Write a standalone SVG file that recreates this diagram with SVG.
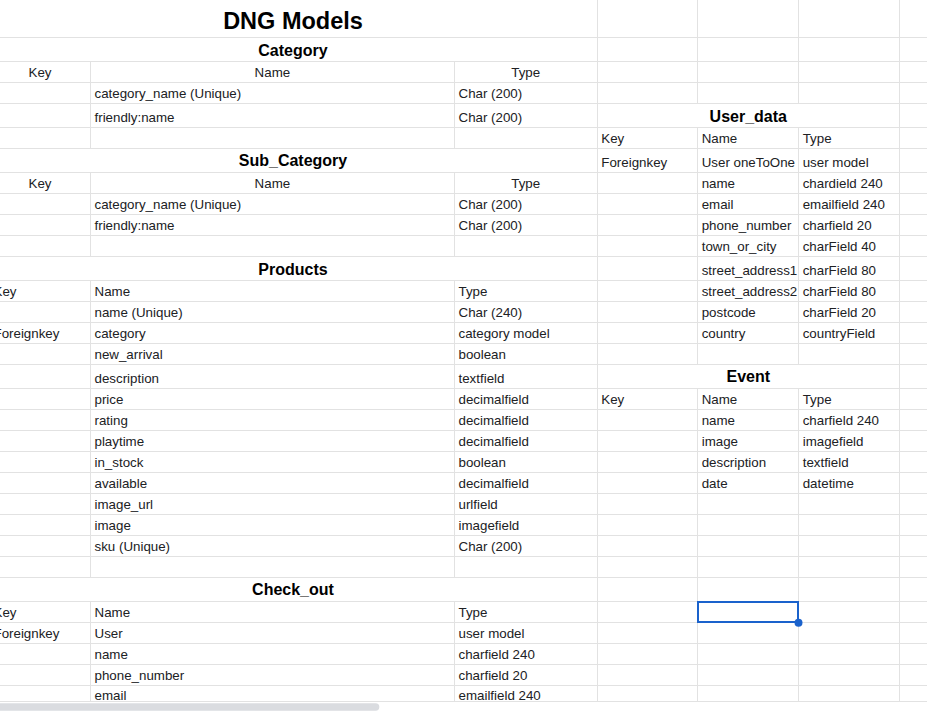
<svg xmlns="http://www.w3.org/2000/svg" width="927" height="711" viewBox="0 0 927 711">
<style>
text{font-family:"Liberation Sans",Arial,sans-serif;fill:#202124}
.t{font-size:13.33px}
.c{text-anchor:middle}
.h{font-size:16px;font-weight:bold;text-anchor:middle;fill:#000}
.g{stroke:#e2e2e2;stroke-width:1;fill:none}
</style>
<defs><clipPath id="view"><rect x="0" y="0" width="927" height="701.5"/></clipPath></defs>
<rect width="927" height="711" fill="#fff"/>
<g id="grid" class="g">
<path d="M0 37.5H927M0 61.5H927M0 82.5H927M0 103.5H927M0 127.5H927M0 148.5H927M0 172.5H927M0 193.5H927M0 214.5H927M0 235.5H927M0 256.5H927M0 280.5H927M0 301.5H927M0 322.5H927M0 343.5H927M0 364.5H927M0 388.5H927M0 409.5H927M0 430.5H927M0 451.5H927M0 472.5H927M0 493.5H927M0 514.5H927M0 535.5H927M0 556.5H927M0 577.5H927M0 601.5H927M0 622.5H927M0 643.5H927M0 664.5H927M0 685.5H927M0 701.5H927"/>
<path d="M90.5 61.5V148.5M90.5 172.5V256.5M90.5 280.5V577.5M90.5 601.5V701.5"/>
<path d="M454.5 61.5V148.5M454.5 172.5V256.5M454.5 280.5V577.5M454.5 601.5V701.5"/>
<path d="M597.5 0V701.5M899.5 0V701.5"/>
<path d="M697.5 0V103.5M697.5 127.5V364.5M697.5 388.5V701.5"/>
<path d="M798.5 0V103.5M798.5 127.5V364.5M798.5 388.5V701.5"/>
</g>
<g id="connectors"></g>
<g clip-path="url(#view)">
<g id="title">
<text x="293" y="29" style="font-size:23.5px;font-weight:bold;text-anchor:middle;fill:#000">DNG Models</text>
</g>
<g id="category" class="t">
<text class="h" x="293" y="55.5">Category</text>
<text class="t c" x="40" y="77.3">Key</text>
<text class="t c" x="272.4" y="77.3">Name</text>
<text class="t c" x="525.7" y="77.3">Type</text>
<text class="t" x="94.5" y="98.3">category_name (Unique)</text>
<text class="t" x="458.5" y="98.3">Char (200)</text>
<text class="t" x="94.5" y="122.3">friendly:name</text>
<text class="t" x="458.5" y="122.3">Char (200)</text>
</g>
<g id="sub_category">
<text class="h" x="293" y="166.3">Sub_Category</text>
<text class="t c" x="40" y="188">Key</text>
<text class="t c" x="272.4" y="188">Name</text>
<text class="t c" x="525.7" y="188">Type</text>
<text class="t" x="94.5" y="209">category_name (Unique)</text>
<text class="t" x="458.5" y="209">Char (200)</text>
<text class="t" x="94.5" y="230">friendly:name</text>
<text class="t" x="458.5" y="230">Char (200)</text>
</g>
<g id="products">
<text class="h" x="293" y="274.7">Products</text>
<text class="t" x="-6.5" y="296.3">Key</text>
<text class="t" x="94.5" y="296.3">Name</text>
<text class="t" x="458.5" y="296.3">Type</text>
<text class="t" x="94.5" y="317.3">name (Unique)</text>
<text class="t" x="458.5" y="317.3">Char (240)</text>
<text class="t" x="-6.5" y="338.3">Foreignkey</text>
<text class="t" x="94.5" y="338.3">category</text>
<text class="t" x="458.5" y="338.3">category model</text>
<text class="t" x="94.5" y="359.3">new_arrival</text>
<text class="t" x="458.5" y="359.3">boolean</text>
<text class="t" x="94.5" y="383">description</text>
<text class="t" x="458.5" y="383">textfield</text>
<text class="t" x="94.5" y="404">price</text>
<text class="t" x="458.5" y="404">decimalfield</text>
<text class="t" x="94.5" y="425">rating</text>
<text class="t" x="458.5" y="425">decimalfield</text>
<text class="t" x="94.5" y="446">playtime</text>
<text class="t" x="458.5" y="446">decimalfield</text>
<text class="t" x="94.5" y="467">in_stock</text>
<text class="t" x="458.5" y="467">boolean</text>
<text class="t" x="94.5" y="488">available</text>
<text class="t" x="458.5" y="488">decimalfield</text>
<text class="t" x="94.5" y="509">image_url</text>
<text class="t" x="458.5" y="509">urlfield</text>
<text class="t" x="94.5" y="530">image</text>
<text class="t" x="458.5" y="530">imagefield</text>
<text class="t" x="94.5" y="551">sku (Unique)</text>
<text class="t" x="458.5" y="551">Char (200)</text>
</g>
<g id="user_data">
<text class="h" x="748.3" y="121.7">User_data</text>
<text class="t" x="601.3" y="143">Key</text>
<text class="t" x="701.7" y="143">Name</text>
<text class="t" x="802.7" y="143">Type</text>
<text class="t" x="601.3" y="167">Foreignkey</text>
<text class="t" x="701.7" y="167">User oneToOne</text>
<text class="t" x="802.7" y="167">user model</text>
<text class="t" x="701.7" y="188">name</text>
<text class="t" x="802.7" y="188">chardield 240</text>
<text class="t" x="701.7" y="209">email</text>
<text class="t" x="802.7" y="209">emailfield 240</text>
<text class="t" x="701.7" y="230">phone_number</text>
<text class="t" x="802.7" y="230">charfield 20</text>
<text class="t" x="701.7" y="250.7">town_or_city</text>
<text class="t" x="802.7" y="250.7">charField 40</text>
<text class="t" x="701.7" y="275.3">street_address1</text>
<text class="t" x="802.7" y="275.3">charField 80</text>
<text class="t" x="701.7" y="296.3">street_address2</text>
<text class="t" x="802.7" y="296.3">charField 80</text>
<text class="t" x="701.7" y="317.3">postcode</text>
<text class="t" x="802.7" y="317.3">charField 20</text>
<text class="t" x="701.7" y="338.3">country</text>
<text class="t" x="802.7" y="338.3">countryField</text>
</g>
<g id="event">
<text class="h" x="748.3" y="382.3">Event</text>
<text class="t" x="601.3" y="404">Key</text>
<text class="t" x="701.7" y="404">Name</text>
<text class="t" x="802.7" y="404">Type</text>
<text class="t" x="701.7" y="425">name</text>
<text class="t" x="802.7" y="425">charfield 240</text>
<text class="t" x="701.7" y="446">image</text>
<text class="t" x="802.7" y="446">imagefield</text>
<text class="t" x="701.7" y="467">description</text>
<text class="t" x="802.7" y="467">textfield</text>
<text class="t" x="701.7" y="488">date</text>
<text class="t" x="802.7" y="488">datetime</text>
</g>
<g id="check_out">
<text class="h" x="293" y="595.3">Check_out</text>
<text class="t" x="-6.5" y="617">Key</text>
<text class="t" x="94.5" y="617">Name</text>
<text class="t" x="458.5" y="617">Type</text>
<text class="t" x="-6.5" y="638">Foreignkey</text>
<text class="t" x="94.5" y="638">User</text>
<text class="t" x="458.5" y="638">user model</text>
<text class="t" x="94.5" y="659">name</text>
<text class="t" x="458.5" y="659">charfield 240</text>
<text class="t" x="94.5" y="680">phone_number</text>
<text class="t" x="458.5" y="680">charfield 20</text>
<text class="t" x="94.5" y="700.3">email</text>
<text class="t" x="458.5" y="700.3">emailfield 240</text>
</g>
</g>
<g id="selection">
<rect x="698" y="602" width="100" height="20" fill="none" stroke="#1a62cc" stroke-width="2"/>
<circle cx="798.5" cy="622.7" r="4" fill="#1a62cc"/>
</g>
<rect id="scrollbar" x="-4" y="703.3" width="383.3" height="7.4" rx="3.7" fill="#dadce0"/>
</svg>
